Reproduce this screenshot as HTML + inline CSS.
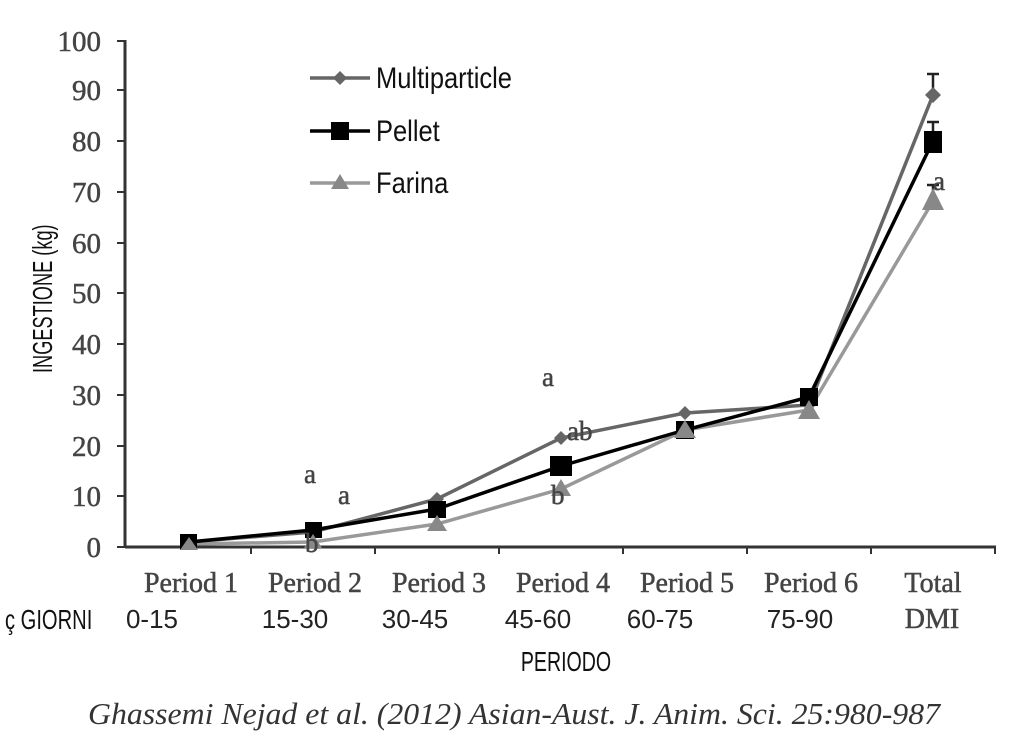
<!DOCTYPE html>
<html><head><meta charset="utf-8"><style>
html,body{margin:0;padding:0;background:#fff;}
svg{display:block}
.t{font-family:"Liberation Serif",serif;fill:#444;stroke:#444;stroke-width:0.5;}
.c{font-family:"Liberation Sans Narrow","Liberation Sans",sans-serif;fill:#111;}
</style></head><body>
<svg width="1024" height="744" viewBox="0 0 1024 744" xmlns="http://www.w3.org/2000/svg">
<rect width="1024" height="744" fill="#fff"/>
<g stroke="#333" stroke-width="3" fill="none">
<line x1="125" y1="40" x2="125" y2="548"/>
<line x1="125" y1="547" x2="996" y2="547"/>
</g>
<g stroke="#333" stroke-width="2">
<line x1="117" y1="41" x2="125" y2="41"/><line x1="117" y1="90" x2="125" y2="90"/>
<line x1="117" y1="141" x2="125" y2="141"/><line x1="117" y1="192" x2="125" y2="192"/>
<line x1="117" y1="243" x2="125" y2="243"/><line x1="117" y1="293" x2="125" y2="293"/>
<line x1="117" y1="344" x2="125" y2="344"/><line x1="117" y1="395" x2="125" y2="395"/>
<line x1="117" y1="446" x2="125" y2="446"/><line x1="117" y1="496" x2="125" y2="496"/>
<line x1="117" y1="547" x2="125" y2="547"/>
<line x1="251" y1="547" x2="251" y2="554"/><line x1="375" y1="547" x2="375" y2="554"/>
<line x1="499" y1="547" x2="499" y2="554"/><line x1="623" y1="547" x2="623" y2="554"/>
<line x1="747" y1="547" x2="747" y2="554"/><line x1="871" y1="547" x2="871" y2="554"/>
<line x1="995" y1="547" x2="995" y2="554"/>
</g>
<g class="t" font-size="29" text-anchor="end">
<text x="101" y="51">100</text><text x="101" y="100">90</text><text x="101" y="151">80</text>
<text x="101" y="202">70</text><text x="101" y="253">60</text><text x="101" y="303">50</text>
<text x="101" y="354">40</text><text x="101" y="405">30</text><text x="101" y="456">20</text>
<text x="101" y="506">10</text><text x="101" y="557">0</text>
</g>
<text class="c" font-size="28" transform="translate(52,373) rotate(-90) scale(0.65,1)">INGESTIONE (kg)</text>
<g class="t" font-size="28" text-anchor="middle">
<text x="191" y="592">Period 1</text><text x="315" y="592">Period 2</text><text x="439" y="592">Period 3</text>
<text x="563" y="592">Period 4</text><text x="687" y="592">Period 5</text><text x="811" y="592">Period 6</text>
<text x="933" y="592">Total</text><text x="932" y="628">DMI</text>
</g>
<g font-family="Liberation Sans, sans-serif" font-size="26" fill="#222" text-anchor="middle">
<text x="152" y="628">0-15</text><text x="295" y="628">15-30</text><text x="415" y="628">30-45</text>
<text x="538" y="628">45-60</text><text x="660" y="628">60-75</text><text x="800" y="628">75-90</text>
</g>
<text class="c" font-size="28" transform="translate(5,629) scale(0.72,1)">ç  GIORNI</text>
<text class="c" font-size="28" transform="translate(566,671) scale(0.7,1)" text-anchor="middle">PERIODO</text>
<polyline fill="none" stroke="#999" stroke-width="3.5" points="189,544 313,542 437,524 561,489 685,430 809,410 933,201"/>
<polyline fill="none" stroke="#666" stroke-width="3.5" points="189,542 313,532 437,499 561,438 685,413 809,405 933,95"/>
<polyline fill="none" stroke="#000" stroke-width="3.5" points="189,542 313,530 437,509 561,466 685,430 809,397 933,141"/>
<g stroke="#222" stroke-width="2.5"><line x1="933" y1="74" x2="933" y2="95"/><line x1="927" y1="74" x2="939" y2="74"/>
<line x1="933" y1="122" x2="933" y2="141"/><line x1="927" y1="122" x2="939" y2="122"/>
<line x1="933" y1="185" x2="933" y2="201"/><line x1="927" y1="185" x2="939" y2="185"/></g>
<g fill="#666">
<polygon points="189,535 196,542 189,549 182,542"/><polygon points="313,525 320,532 313,539 306,532"/>
<polygon points="437,492 444,499 437,506 430,499"/><polygon points="561,431 568,438 561,445 554,438"/>
<polygon points="685,406 692,413 685,420 678,413"/><polygon points="809,398 816,405 809,412 802,405"/>
<polygon points="933,87 941,95 933,103 925,95"/>
</g>
<g fill="#000">
<rect x="180" y="534" width="17" height="16"/><rect x="305" y="522" width="17" height="16"/>
<rect x="428" y="501" width="18" height="17"/><rect x="550" y="456" width="22" height="20"/>
<rect x="676" y="421" width="18" height="18"/><rect x="800" y="388" width="18" height="18"/>
<rect x="924" y="131" width="18" height="22"/>
</g>
<g fill="#888">
<polygon points="189,537 198,550 180,550"/><polygon points="313,534 322,548 304,548"/>
<polygon points="437,515 447,531 427,531"/><polygon points="561,479 571,496 551,496"/>
<polygon points="685,420 696,438 674,438"/><polygon points="809,400 820,419 798,419"/>
<polygon points="933,188 944,210 922,210"/>
</g>
<g class="t" font-size="27" fill="#555">
<text x="304" y="483">a</text><text x="338" y="504">a</text><text x="542" y="386">a</text>
<text x="567" y="440">ab</text><text x="551" y="504">b</text><text x="305" y="552">b</text>
<text x="933" y="190">a</text>
</g>
<g stroke-width="3.5">
<line x1="310" y1="78" x2="370" y2="78" stroke="#666"/>
<line x1="310" y1="131" x2="370" y2="131" stroke="#000"/>
<line x1="310" y1="183" x2="370" y2="183" stroke="#999"/>
</g>
<polygon points="340,71 347,78 340,85 333,78" fill="#666"/>
<rect x="331" y="122" width="18" height="18" fill="#000"/>
<polygon points="340,174 349,189 331,189" fill="#888"/>
<g class="c" font-size="30">
<text transform="translate(376,88) scale(0.85,1)">Multiparticle</text>
<text transform="translate(376,141) scale(0.85,1)">Pellet</text>
<text transform="translate(376,193) scale(0.85,1)">Farina</text>
</g>
<text x="514" y="724" text-anchor="middle" font-family="Liberation Serif, serif" font-style="italic" font-size="31" fill="#333" textLength="852" lengthAdjust="spacingAndGlyphs">Ghassemi Nejad et al. (2012) Asian-Aust. J. Anim. Sci. 25:980-987</text>
</svg>
</body></html>
